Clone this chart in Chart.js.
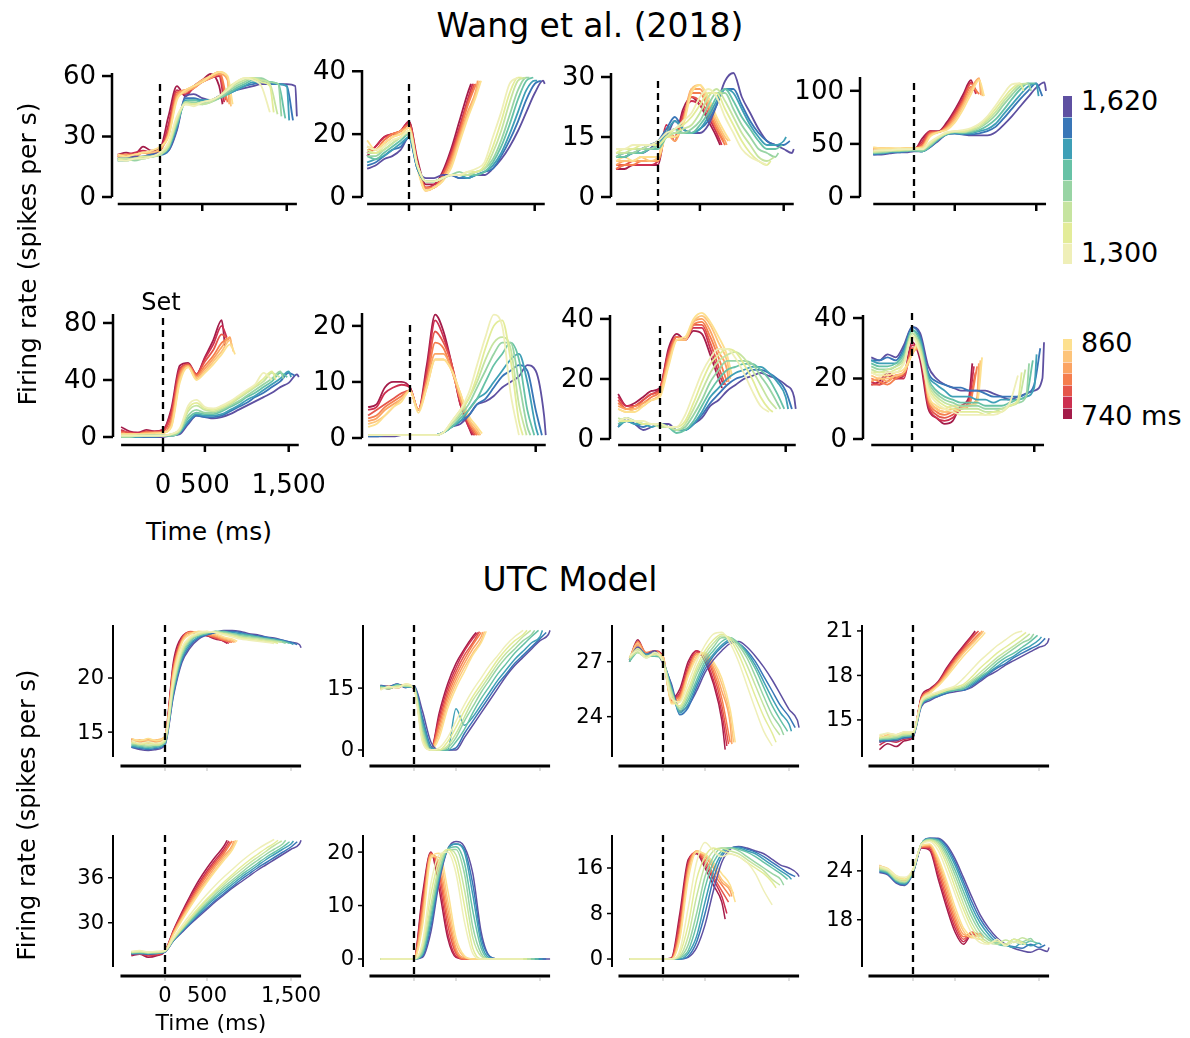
<!DOCTYPE html>
<html><head><meta charset="utf-8">
<script src="https://cdn.jsdelivr.net/npm/chart.js@4.4.1/dist/chart.umd.min.js"></script>
<style>
html,body{margin:0;padding:0;background:#fff;}
#wrap{position:relative;width:1190px;height:1038px;overflow:hidden;background:#fff;font-family:"DejaVu Sans",sans-serif;color:#000;}
#wrap canvas{position:absolute;}
.t{position:absolute;white-space:nowrap;line-height:1;transform:translate(-50%,-50%);}
.tl{position:absolute;white-space:nowrap;line-height:1;transform:translate(0,-50%);}
.rot{position:absolute;white-space:nowrap;line-height:1;transform:translate(-50%,-50%) rotate(-90deg);}
.seg{position:absolute;width:9px;box-sizing:border-box;border-top:1px solid rgba(255,255,255,0.55);}
</style></head><body><div id="wrap"></div>
<script>
// ---------------- DATA ----------------
const shortIntervals = [740,760,780,800,820,840,860];
const longIntervals = [1300,1346,1391,1437,1483,1529,1574,1620];
const xTickValues = [0,500,1500];
const xTickLabels = ['0','500','1,500'];
const topStart = -500;   // first sample time (ms), Wang et al. panels
const modelStart = -400; // first sample time (ms), UTC model panels

// Wang et al. row 1
const A1_yTicks = [0,30,60];
const A1_short = [
 [21,22,21,25,23,24,40,55,50,55,58,61,55,46],
 [20,21,22,23,22,23,36,53,51,54,57,59,60,47],
 [20,21,21,22,22,23,33,52,52,54,58,59,61,48],
 [21,21,21,22,21,23,32,51,53,55,57,60,62,47],
 [20,21,20,22,21,24,31,50,53,54,57,59,61,58,46],
 [20,20,21,22,22,24,30,49,52,55,58,60,62,59,45],
 [21,20,21,22,23,25,30,48,53,55,57,60,62,60,46]];
const A1_long = [
 [18,18,19,19,20,22,27,40,46,45,47,48,50,53,57,59,58,55,42],
 [19,18,19,20,20,22,26,39,46,46,47,48,50,54,57,59,59,57,55,42],
 [19,19,19,20,20,21,25,38,47,46,46,47,50,53,56,58,59,58,56,41],
 [19,19,18,19,20,21,25,37,47,47,46,47,49,52,55,57,59,59,57,56,40],
 [18,19,19,19,20,21,24,36,47,48,47,48,49,51,54,56,58,58,57,56,39],
 [18,18,19,20,20,21,24,35,48,48,48,48,49,51,53,55,57,57,57,56,55,38],
 [19,19,19,20,21,21,23,34,49,49,48,48,50,51,53,55,56,57,56,56,55,38],
 [19,19,20,20,21,22,23,33,50,51,49,48,50,52,53,54,55,56,56,56,56,55,40]];

const A2_yTicks = [0,20,40];
const A2_short = [
 [13,16,19,20,21,24,12,4,4,8,15,24,33,36],
 [14,16,19,20,21,24,11,3,4,7,14,22,31,36],
 [15,15,18,20,21,23,11,3,3,7,13,21,30,36],
 [15,15,18,20,21,23,10,3,3,6,12,20,29,36],
 [16,15,17,19,21,22,10,2,3,6,11,19,27,34,37],
 [16,15,17,19,20,22,10,2,3,5,10,18,26,33,37],
 [18,15,17,19,20,22,9,2,3,5,9,17,25,32,37]];
const A2_long = [
 [16,15,16,18,19,21,10,5,5,6,7,7,8,9,11,19,27,36,38],
 [15,14,16,18,19,21,10,5,5,6,7,7,8,8,10,16,24,33,38,38],
 [14,14,15,17,19,21,10,5,5,6,7,7,7,8,9,14,21,30,37,38],
 [13,13,15,17,19,20,10,5,5,6,7,8,7,8,9,12,18,26,34,38,38],
 [13,12,14,16,18,20,10,5,5,6,7,7,7,7,8,11,16,23,31,37,38],
 [11,12,13,15,17,19,9,5,5,6,7,7,6,7,8,10,14,20,27,34,37,37],
 [10,11,13,15,16,19,9,5,5,6,7,6,6,7,8,9,13,18,24,31,36,37],
 [9,10,12,13,15,19,9,6,6,7,7,6,6,7,7,9,12,16,21,27,33,37,36]];

const A3_yTicks = [0,15,30];
const A3_short = [
 [7,7,8,8,8,8,17,15,22,25,23,19,15,13],
 [7,8,8,8,8,9,18,14,21,24,23,20,16,13],
 [8,8,9,9,9,9,17,15,20,25,24,21,17,14],
 [7,8,8,9,9,9,16,15,19,26,26,22,17,13],
 [8,9,9,9,9,9,16,14,19,27,27,23,18,14,13],
 [9,9,9,10,9,10,16,15,18,27,28,24,19,15,14],
 [9,10,9,10,10,10,15,15,18,26,28,25,20,16,14]];
const A3_long = [
 [12,12,13,13,13,14,16,17,19,21,25,27,25,20,16,12,10,9,8],
 [11,12,12,13,13,13,15,17,18,20,23,26,26,22,18,14,11,9,8,9],
 [11,11,12,12,13,13,15,16,17,18,21,25,27,24,20,16,13,10,9,10],
 [10,11,11,12,12,13,15,16,16,17,19,23,26,26,22,18,15,12,11,10,11],
 [10,10,11,11,12,12,15,17,16,16,18,21,25,27,24,20,17,14,12,12,13],
 [10,10,11,11,12,13,16,19,17,16,17,20,24,27,26,22,18,15,13,13,14,15],
 [10,11,11,12,13,14,17,20,17,16,17,19,23,27,27,23,19,16,14,13,13,14],
 [10,10,11,11,12,14,15,19,17,16,16,18,23,29,31,25,21,17,14,13,12,11,12]];

const A4_yTicks = [0,50,100];
const A4_short = [
 [44,44,45,44,45,44,55,62,62,70,82,96,110,100],
 [44,44,45,45,44,45,52,62,61,68,80,93,108,97],
 [45,45,44,45,45,45,50,61,61,67,78,91,107,98],
 [45,46,45,44,45,46,48,60,61,66,76,89,104,97],
 [46,45,45,45,46,46,47,59,61,65,74,87,102,112,96],
 [46,46,46,45,46,46,47,58,61,64,72,85,100,111,95],
 [47,46,46,46,46,46,46,57,61,63,70,82,97,110,95]];
const A4_long = [
 [44,44,44,45,45,45,45,52,57,61,62,63,65,69,76,86,97,106,107],
 [43,44,44,44,45,45,45,51,56,60,62,62,64,68,74,83,93,102,107,100],
 [42,43,44,44,44,45,45,50,56,60,61,61,63,66,72,80,90,99,106,107],
 [42,42,43,44,44,44,44,49,55,60,61,61,62,65,70,77,87,96,104,107,100],
 [41,42,43,43,44,44,43,48,55,59,61,60,61,63,67,73,82,92,101,107,107],
 [41,41,42,43,43,44,43,48,54,59,60,60,60,62,64,69,78,87,96,104,107,95],
 [40,41,42,42,43,44,43,47,54,59,60,59,59,60,62,66,74,83,92,100,107,95],
 [40,40,41,42,42,43,43,47,53,59,60,59,58,58,58,61,68,76,85,94,103,108,100]];

// Wang et al. row 2
const B1_yTicks = [0,40,80];
const B1_short = [
 [7,4,3,5,4,5,20,50,52,44,56,68,82,64],
 [5,3,3,4,4,5,18,48,51,44,55,65,78,70],
 [4,3,2,4,3,4,15,46,51,44,53,61,72,68],
 [3,2,2,3,3,3,12,44,50,43,50,57,66,70],
 [2,2,2,3,3,3,10,42,50,42,48,55,63,70,63],
 [2,2,2,2,3,3,8,40,49,41,46,53,60,68,60],
 [2,2,2,2,2,3,7,38,49,40,45,51,58,65,58]];
const B1_long = [
 [1,1,1,1,1,1,2,6,22,26,21,20,22,25,29,33,37,45,40],
 [1,1,1,1,1,1,2,5,20,24,20,19,21,24,28,32,36,41,46,40],
 [1,1,1,1,1,1,2,5,18,22,19,18,20,23,27,31,35,39,45,42],
 [0,0,1,1,1,1,1,4,15,19,17,17,19,22,25,29,33,37,41,46,41],
 [0,0,1,1,1,1,1,4,13,17,16,16,18,21,24,28,31,35,39,45,42],
 [0,0,0,1,1,1,1,3,11,16,15,15,16,19,22,26,29,33,37,41,46,42],
 [0,0,0,0,0,1,1,3,10,15,14,14,15,18,21,24,28,31,35,39,45,43],
 [0,0,0,0,0,0,1,2,9,15,14,13,14,16,19,22,25,28,31,35,38,44,42]];

const B2_yTicks = [0,10,20];
const B2_short = [
 [5.5,6,9,10,10,9,5,13,22,19,13,6,2,0.5],
 [5,5.5,8,9,9.5,9,5,12,21,18,13,6,2,0.5],
 [4,5,6,7,8,8.5,5,11,19,17,13,7,2.5,0.5],
 [3.5,4,5.5,6.5,7.5,8.5,5,10,17,16,12,7,3,0.5],
 [3,3.5,5,6,7,8.5,5,10,15,15,12,7,3,1,0.5],
 [2.5,3,4,5.5,7,8.5,5,9,14,14,12,8,3.5,1.5,0.5],
 [2,2.5,4,5.5,6.5,8.5,4.5,9,14,14,12,8,4,2,0.8]];
const B2_long = [
 [0.5,0.5,0.5,0.5,0.5,0.5,0.5,0.5,0.5,1,3,5,8,13,18,22,20,8,0.5],
 [0.5,0.5,0.5,0.5,0.5,0.5,0.5,0.5,0.5,1,3,5,7,11,16,20,21,14,3,0.5],
 [0.5,0.5,0.5,0.5,0.5,0.5,0.5,0.5,0.5,1,2.5,4.5,7,10,14,17,18,16,6,0.5],
 [0.5,0.5,0.5,0.5,0.5,0.5,0.5,0.5,0.5,1,2.5,4,6,9,12,15,17,17,10,2,0.5],
 [0.5,0.5,0.5,0.5,0.5,0.5,0.5,0.5,0.5,1,2,3.5,5,7,10,13,15,17,14,5,0.5],
 [0.5,0.5,0.5,0.5,0.5,0.5,0.5,0.5,0.5,1,2,3,5,7,8,10,12,14,15,10,2,0.5],
 [0.3,0.3,0.5,0.5,0.5,0.5,0.5,0.5,0.5,1,2,3,4,6,7,9,11,12,13,12,5,0.5],
 [0.3,0.3,0.3,0.3,0.5,0.5,0.5,0.5,0.5,1,2,2.5,4,6,6.5,7.5,9,10,11,13,12,4,0.5]];

const B3_yTicks = [0,20,40];
const B3_short = [
 [15,11,12,14,16,17,30,35,33,36,35,28,20,17],
 [14,11,11,13,15,17,29,34,33,37,37,30,22,18],
 [13,10,11,13,15,16,28,34,33,38,38,32,24,18],
 [12,10,11,12,14,16,27,34,33,38,39,34,27,19],
 [11,10,10,12,13,15,26,33,33,39,40,36,29,23,19],
 [10,9,10,11,13,15,25,33,33,39,41,38,32,26,20],
 [10,9,9,11,13,14,24,33,34,40,42,39,34,28,21]];
const B3_long = [
 [6,7,6,6,5,5,4,4,8,15,22,27,30,30,27,22,16,11,9],
 [6,6,6,5,5,5,4,4,6,12,19,25,28,30,29,25,20,14,10,9],
 [7,6,6,5,5,4,4,3,5,10,16,22,26,28,29,27,23,18,13,10],
 [6,7,6,5,5,5,4,3,4,8,13,19,23,26,26,26,25,21,17,12,10],
 [5,6,6,5,5,5,4,2,3,6,11,16,20,23,24,25,25,23,20,15,10],
 [4,6,5,5,4,5,4,3,3,5,9,14,17,20,22,23,24,24,22,19,14,10],
 [5,6,5,4,5,5,4,3,3,5,8,12,15,18,20,21,23,23,22,20,16,10],
 [4,7,5,3,4,5,5,3,3,5,7,11,13,16,18,20,21,22,21,20,18,14,10]];

const B4_yTicks = [0,20,40];
const B4_short = [
 [18,19,22,20,21,32,26,10,7,5,6,11,14,25],
 [19,18,21,20,20,31,28,11,7,6,7,10,13,24],
 [18,18,19,21,21,30,29,12,8,7,8,10,12,22],
 [20,19,18,20,22,29,30,13,9,8,9,10,11,24],
 [19,20,19,21,22,28,31,14,10,9,9,10,11,14,25],
 [21,20,20,21,22,28,32,14,10,9,10,10,11,13,26],
 [22,21,21,22,23,28,33,15,11,10,11,11,11,12,27]];
const B4_long = [
 [22,21,22,22,25,34,28,16,12,10,9,8,8,8,8,8,9,12,21],
 [22,22,22,23,25,34,29,17,13,11,10,9,9,9,8,9,9,11,13,22],
 [23,22,23,24,26,35,30,18,14,12,11,10,10,10,9,9,10,11,12,23],
 [24,23,23,24,27,35,31,19,15,13,12,11,11,11,10,10,10,11,12,14,25],
 [25,24,24,25,28,36,32,20,16,14,13,12,12,12,11,11,11,12,13,14,26],
 [26,25,25,25,29,36,33,21,18,16,14,14,14,13,13,12,13,13,13,14,17,28],
 [26,26,27,26,30,37,34,22,19,18,17,17,16,16,15,14,14,14,14,15,18,30],
 [27,26,28,27,31,37,35,24,20,18,17,16,16,16,16,15,14,13,14,15,16,20,32]];

// UTC model row 1
const C1_yTicks = [15,20];
const C1_short = [
 [14.3,13.9,14.2,14.0,14.6,21.5,23.8,24.2,24.1,23.9,23.6,23.4,23.2],
 [14.2,14.0,14.1,14.1,14.5,21.2,23.7,24.2,24.1,23.9,23.7,23.4,23.2],
 [14.4,14.1,14.2,14.0,14.5,21.0,23.6,24.3,24.2,24.0,23.7,23.5,23.3],
 [14.1,14.2,14.0,14.2,14.4,20.8,23.5,24.2,24.2,24.0,23.8,23.5,23.3],
 [14.3,14.1,14.3,14.1,14.5,20.6,23.4,24.2,24.2,24.1,23.9,23.6,23.4,23.3],
 [14.2,14.3,14.2,14.3,14.6,20.4,23.3,24.1,24.3,24.2,24.0,23.7,23.5,23.3],
 [14.4,14.2,14.4,14.2,14.6,20.2,23.2,24.0,24.3,24.3,24.1,23.8,23.6,23.4]];
const C1_long = [
 [14.2,14.0,14.1,14.0,14.4,19.8,22.8,23.8,24.2,24.3,24.2,24.0,23.8,23.6,23.5,23.4,23.3,23.2],
 [14.1,13.9,14.0,13.9,14.3,19.5,22.6,23.7,24.1,24.3,24.2,24.1,23.9,23.7,23.6,23.5,23.4,23.3,23.2],
 [14.0,13.9,13.8,13.8,14.2,19.3,22.4,23.6,24.0,24.2,24.3,24.1,24.0,23.8,23.7,23.6,23.5,23.4,23.3],
 [13.9,13.8,13.7,13.8,14.1,19.1,22.2,23.5,24.0,24.2,24.3,24.2,24.1,23.9,23.8,23.7,23.6,23.5,23.3,23.2],
 [13.8,13.7,13.6,13.7,14.0,18.9,22.0,23.4,23.9,24.1,24.3,24.3,24.1,24.0,23.9,23.8,23.6,23.5,23.4,23.2],
 [13.7,13.6,13.5,13.6,14.0,18.7,21.8,23.2,23.8,24.1,24.3,24.3,24.2,24.1,24.0,23.8,23.7,23.6,23.4,23.2,23.1],
 [13.6,13.5,13.4,13.5,13.9,18.5,21.6,23.0,23.7,24.0,24.2,24.3,24.3,24.2,24.0,23.9,23.8,23.6,23.5,23.3,23.1],
 [13.6,13.4,13.3,13.4,13.8,18.3,21.4,22.8,23.6,24.0,24.2,24.4,24.4,24.3,24.1,24.0,23.8,23.7,23.5,23.3,23.1,22.8]];

const C2_yTicks = [0,15];
const C2_short = [
 [15.5,14.8,15.6,15.8,15.0,7,0,9,16,21,24.5,27.5,28.5],
 [15.0,15.2,15.3,15.6,15.0,6,0,8,15,20,24,27,28.5],
 [14.8,15.6,15.0,15.9,14.8,5,0,7,14,19,23,26,28.7],
 [15.2,15.0,15.4,15.5,15.0,4,0,6,13,18,22,25.5,28.5],
 [15.4,14.9,15.6,15.7,14.9,3.5,0,5,12,17,21,24.5,27.5,28.6],
 [15.6,15.3,15.5,15.8,15.1,3,0,4,11,16,20,23.5,26.5,28.7],
 [15.0,15.5,15.2,16.0,15.0,2.5,0,3,10,15,19,23,26,28.8]];
const C2_long = [
 [14.5,15.4,15.0,16.0,14.8,2,0,0.5,3,7,11,14.5,17.5,20.5,23,25.5,27.5,29],
 [14.8,15.2,15.3,15.8,15.0,3,0,0,2,5.5,9.5,13,16,19,22,24.5,26.5,28,29],
 [15.0,15.0,15.5,15.6,15.1,4,0,0,1,4,8,12,15,18,21,23.5,25.5,27.5,29],
 [15.2,14.8,15.6,15.5,15.2,5,0,0,0.5,3,7,10.5,14,17,20,22.5,24.5,26.5,28,29],
 [15.4,15.0,15.8,15.4,15.3,6,0,0,0,2,5,9,12.5,15.5,18.5,21,23.5,25.5,27.5,29],
 [15.5,15.2,15.9,15.3,15.4,7,0.5,0,0,10,6,8,11,14,17,19.5,22,24,26,27.5,29],
 [15.6,15.3,16.0,15.2,15.5,8,1,0,0,0.5,4,7,10,13,16,18.5,21,23,25,27,28.5],
 [15.7,15.4,16.0,15.1,15.6,9.5,2,0,0,0,3,6,9,12,15,18,20.5,22.5,24.5,26.5,28,29]];

const C3_yTicks = [24,27];
const C3_short = [
 [27.1,28.2,27.4,27.5,27.2,25.0,25.5,27.0,27.6,27.0,25.8,23.8,22.2],
 [27.0,28.0,27.4,27.6,27.3,25.0,25.3,26.8,27.6,27.2,26.0,24.2,22.4],
 [27.2,27.9,27.3,27.5,27.2,24.9,25.2,26.6,27.5,27.3,26.3,24.6,22.5],
 [27.1,28.1,27.5,27.6,27.1,24.9,25.1,26.5,27.4,27.4,26.5,25.0,22.6],
 [27.0,27.9,27.4,27.5,27.2,24.8,25.0,26.4,27.4,27.4,26.7,25.4,23.6,22.5],
 [27.2,28.0,27.3,27.4,27.3,24.8,24.9,26.3,27.3,27.5,26.9,25.8,24.0,22.6],
 [27.1,27.8,27.3,27.5,27.2,24.7,24.8,26.2,27.2,27.5,27.0,26.1,24.4,22.6]];
const C3_long = [
 [27.3,27.6,27.2,27.5,27.0,25.0,24.8,25.8,27.0,27.9,28.5,28.6,28.0,27.0,25.7,24.4,23.2,22.4],
 [27.2,27.7,27.3,27.4,27.0,25.1,24.6,25.5,26.7,27.6,28.2,28.5,28.2,27.4,26.3,25.1,24.0,23.1,22.6],
 [27.2,27.5,27.2,27.4,27.1,25.3,24.5,25.3,26.5,27.4,28.0,28.4,28.3,27.7,26.8,25.7,24.6,23.6,23.0],
 [27.1,27.6,27.3,27.4,27.0,25.4,24.4,25.1,26.3,27.2,27.8,28.3,28.3,27.9,27.2,26.2,25.1,24.1,23.4,23.0],
 [27.0,27.5,27.3,27.3,27.0,25.5,24.3,24.9,26.0,27.0,27.6,28.1,28.3,28.0,27.4,26.6,25.6,24.6,23.8,23.2],
 [27.0,27.7,27.4,27.4,27.0,25.6,24.2,24.7,25.8,26.8,27.4,27.9,28.2,28.0,27.5,26.8,25.9,25.0,24.2,23.6,23.2],
 [27.1,27.6,27.3,27.5,27.0,25.7,24.1,24.5,25.6,26.6,27.3,27.8,28.1,28.0,27.6,27.0,26.2,25.4,24.6,24.0,23.4],
 [27.1,27.8,27.4,27.6,26.9,25.8,24.3,24.6,25.4,26.4,27.1,27.6,28.0,28.1,27.8,27.3,26.7,26.0,25.2,24.4,23.8,23.4]];

const C4_yTicks = [15,18,21];
const C4_short = [
 [13.0,13.4,13.2,13.6,13.8,16.6,17.1,17.6,18.5,19.3,20.0,20.7,21.0],
 [13.3,13.6,13.5,13.7,13.9,16.5,17.0,17.5,18.4,19.2,19.9,20.6,20.9],
 [13.5,13.8,13.6,13.9,14.0,16.5,17.0,17.5,18.3,19.1,19.8,20.5,21.0],
 [13.6,13.7,13.8,13.8,14.0,16.4,16.9,17.4,18.2,19.0,19.7,20.3,20.9],
 [13.8,13.9,13.7,14.0,14.1,16.4,16.9,17.4,18.1,18.9,19.6,20.2,20.8,21.0],
 [13.7,14.0,13.9,14.1,14.1,16.3,16.9,17.3,18.0,18.8,19.5,20.1,20.7,21.0],
 [13.9,14.1,14.0,14.2,14.2,16.3,16.8,17.3,17.9,18.6,19.3,19.9,20.5,20.9]];
const C4_long = [
 [14.0,14.1,14.0,14.2,14.2,16.3,16.7,16.9,17.1,17.3,17.8,18.4,19.0,19.5,20.0,20.4,20.8,21.0],
 [13.8,13.9,14.0,14.1,14.1,16.2,16.6,16.8,17.0,17.2,17.4,17.9,18.5,19.0,19.5,19.9,20.3,20.7,20.9],
 [13.8,13.8,13.9,14.0,14.1,16.2,16.6,16.8,17.0,17.1,17.3,17.7,18.2,18.7,19.2,19.6,20.0,20.4,20.8],
 [13.7,13.8,13.8,14.0,14.0,16.1,16.5,16.8,17.0,17.1,17.2,17.6,18.0,18.5,19.0,19.4,19.8,20.2,20.5,20.8],
 [13.7,13.7,13.8,13.9,14.0,16.1,16.5,16.7,16.9,17.0,17.1,17.5,17.9,18.3,18.8,19.2,19.5,19.9,20.3,20.7],
 [13.6,13.7,13.7,13.9,14.0,16.0,16.4,16.7,16.9,17.0,17.1,17.4,17.8,18.2,18.6,19.0,19.3,19.7,20.0,20.4,20.6],
 [13.6,13.6,13.7,13.8,13.9,16.0,16.4,16.6,16.8,17.0,17.0,17.3,17.7,18.1,18.5,18.8,19.2,19.5,19.8,20.1,20.5],
 [13.5,13.6,13.6,13.8,13.9,15.9,16.3,16.6,16.8,16.9,17.0,17.2,17.6,18.0,18.3,18.7,19.0,19.3,19.6,19.9,20.2,20.5]];

// UTC model row 2
const D1_yTicks = [30,36];
const D1_short = [
 [25.6,25.8,25.4,25.6,26.2,29.0,31.4,33.6,35.6,37.3,38.8,40.2,41.0],
 [25.7,25.9,25.6,25.7,26.2,28.9,31.2,33.3,35.2,36.9,38.4,39.8,40.9],
 [25.8,25.8,25.7,25.8,26.2,28.8,31.0,33.0,34.9,36.6,38.1,39.5,40.8],
 [25.9,26.0,25.8,25.9,26.2,28.7,30.8,32.8,34.6,36.3,37.8,39.2,40.9],
 [26.0,26.1,25.9,26.0,26.2,28.6,30.6,32.5,34.3,35.9,37.5,38.9,40.3,40.9],
 [26.1,26.1,26.0,26.0,26.3,28.5,30.5,32.3,34.0,35.6,37.1,38.6,40.0,41.0],
 [26.1,26.2,26.0,26.1,26.3,28.4,30.3,32.1,33.8,35.4,36.9,38.3,39.7,41.0]];
const D1_long = [
 [26.2,26.3,26.1,26.2,26.3,28.0,29.6,31.1,32.5,33.8,35.0,36.1,37.1,38.1,39.0,39.8,40.5,41.1],
 [26.1,26.2,26.1,26.1,26.3,27.9,29.3,30.7,32.0,33.2,34.3,35.4,36.4,37.4,38.3,39.1,39.9,40.6,41.0],
 [26.1,26.1,26.0,26.1,26.2,27.8,29.2,30.5,31.8,33.0,34.1,35.1,36.1,37.0,37.9,38.7,39.5,40.3,40.9],
 [26.0,26.1,26.0,26.0,26.2,27.8,29.1,30.4,31.6,32.7,33.8,34.8,35.7,36.6,37.5,38.3,39.1,39.8,40.5,41.0],
 [26.0,26.0,25.9,26.0,26.2,27.7,29.0,30.2,31.4,32.5,33.5,34.5,35.4,36.3,37.1,37.9,38.7,39.4,40.1,40.8],
 [25.9,26.0,25.9,26.0,26.2,27.7,28.9,30.1,31.2,32.3,33.3,34.2,35.1,36.0,36.8,37.6,38.4,39.1,39.8,40.5,40.9],
 [25.9,25.9,25.8,25.9,26.1,27.6,28.8,29.9,31.0,32.0,33.0,33.9,34.8,35.7,36.5,37.3,38.0,38.7,39.4,40.1,40.8],
 [25.8,25.9,25.8,25.9,26.1,27.6,28.7,29.8,30.8,31.8,32.8,33.7,34.6,35.4,36.2,37.0,37.7,38.4,39.1,39.8,40.5,41.0]];

const D2_yTicks = [0,10,20];
const D2_short = [
 [0,0,0,0,0,12,20,13,4,0.3,0,0,0],
 [0,0,0,0,0,11,19.9,14.5,5,0.5,0,0,0],
 [0,0,0,0,0,10,19.8,16,6.5,1,0,0,0],
 [0,0,0,0,0,9,19.7,17,8,1.5,0,0,0],
 [0,0,0,0,0,8,19.5,18,9.5,2,0.2,0,0,0],
 [0,0,0,0,0,7,19.2,19,11,3,0.4,0,0,0],
 [0,0,0,0,0,6,18.8,19.8,13,4,0.6,0,0,0]];
const D2_long = [
 [0,0,0,0,0,3,14,19.5,20,16,7,1,0,0,0,0,0,0],
 [0,0,0,0,0,2.5,12,18.5,20.5,18,10,2,0,0,0,0,0,0,0],
 [0,0,0,0,0,2,10,17.5,20.5,19.5,13,4,0.5,0,0,0,0,0,0],
 [0,0,0,0,0,1.5,9,16.5,20.5,20.5,16,6,1,0,0,0,0,0,0,0],
 [0,0,0,0,0,1,8,16,20.5,21,18,9,2,0,0,0,0,0,0,0],
 [0,0,0,0,0,0.8,7,15.5,20.5,21.5,20,12,3,0.2,0,0,0,0,0,0,0],
 [0,0,0,0,0,0.5,6,15,20.5,21.5,20.5,14,4,0.5,0,0,0,0,0,0,0],
 [0,0,0,0,0,0.3,5,14.5,20.5,22,21,16,5,0.5,0,0,0,0,0,0,0,0]];

const D3_yTicks = [0,8,16];
const D3_short = [
 [0,0,0,0,0,0.2,8,17.5,18.5,16,13,10,7],
 [0,0,0,0,0,0.1,7,17,18.7,16.5,14,11,8],
 [0,0,0,0,0,0.1,6,16.5,18.8,17,14.5,12,10],
 [0,0,0,0,0,0,5,16,18.9,17.5,15,13,11],
 [0,0,0,0,0,0,4.5,15.5,19,18,16,13.5,12,11],
 [0,0,0,0,0,0,4,15,19,18.3,16.5,14,12.5,11.5],
 [0,0,0,0,0,0,3.5,14,18.8,18.5,17,15,13,10]];
const D3_long = [
 [0,0,0,0,0,0,1.5,9,17,20.5,19,18,18.5,18,17,15,12,9.5],
 [0,0,0,0,0,0,1,6,14,18,19.5,19,18.5,18,17,16,15,13.5,12.5],
 [0,0,0,0,0,0,0.5,4,11,16.5,19,19.5,19,18.5,17.5,16.5,15.5,14,13],
 [0,0,0,0,0,0,0.3,2.5,8,14.5,18,19.5,19.5,19,18,17,16,15,14,13],
 [0,0,0,0,0,0,0.2,1.5,6,12.5,17,19,19.5,19.3,18.8,18,17,16,15,14],
 [0,0,0,0,0,0,0,1,4,10,15.5,18.5,19.5,19.5,19,18.5,17.5,16.5,15.5,14.5,14],
 [0,0,0,0,0,0,0,0.5,3,8,14,18,19.5,19.7,19.3,18.8,18,17,16,15,14.5],
 [0,0,0,0,0,0,0,0.3,2,6,12,17,19.3,19.8,19.5,19,18.5,17.5,16.5,16,15,14.5]];

const D4_yTicks = [18,24];
const D4_short = [
 [24.3,23.8,22.8,22.4,23.8,26.8,26.5,23.0,19.5,16.5,15.0,16.2,15.8],
 [24.5,24.0,22.9,22.5,23.9,26.9,26.7,23.5,20.0,17.0,15.3,16.3,16.0],
 [24.2,24.1,23.0,22.6,24.0,26.9,26.9,24.0,20.6,17.5,15.6,16.5,16.1],
 [24.6,24.2,23.1,22.7,24.0,27.0,27.0,24.5,21.2,18.0,15.9,16.4,16.2],
 [24.4,24.0,23.2,22.8,24.1,27.0,27.1,25.0,21.8,18.5,16.2,16.0,16.3,16.0],
 [24.7,24.1,23.3,22.9,24.1,27.1,27.2,25.3,22.3,19.0,16.6,15.8,16.0,15.8],
 [24.5,24.3,23.4,23.0,24.2,27.1,27.3,25.6,22.8,19.6,17.0,15.9,15.6,15.5]];
const D4_long = [
 [24.6,24.2,23.4,23.2,24.2,27.2,27.6,26.5,24.0,21.2,18.5,16.3,15.2,15.0,15.6,14.8,15.3,15.0],
 [24.4,24.1,23.2,22.9,24.1,27.3,27.7,27.0,24.8,22.0,19.3,17.0,15.6,15.1,15.4,15.0,15.6,15.2,15.0],
 [24.3,24.0,23.0,22.7,24.0,27.3,27.8,27.3,25.4,22.8,20.0,17.6,16.0,15.2,15.0,15.5,15.2,15.8,15.4],
 [24.2,23.9,22.9,22.6,24.0,27.3,27.8,27.5,25.9,23.5,20.8,18.3,16.5,15.5,15.2,15.0,15.6,15.3,15.7,15.3],
 [24.1,23.8,22.8,22.5,23.9,27.3,27.9,27.7,26.3,24.1,21.5,19.0,17.0,15.8,15.0,14.8,15.3,15.0,15.4,15.1],
 [24.0,23.7,22.7,22.4,23.8,27.3,27.9,27.8,26.7,24.7,22.2,19.6,17.6,16.2,15.2,14.9,14.6,15.2,14.8,15.1,14.9],
 [23.9,23.6,22.6,22.3,23.8,27.3,28.0,27.9,27.0,25.1,22.7,20.2,18.1,16.6,15.5,14.9,14.7,14.5,15.0,14.6,14.9],
 [23.8,23.5,22.5,22.2,23.7,27.2,28.0,28.0,27.2,25.5,23.2,20.8,18.6,17.0,15.8,15.0,14.5,14.2,14.0,14.4,14.1,14.6]];

// ---------------- STYLE / LAYOUT ----------------
const shortColors = ['#a41c4a','#cc2f50','#e5564b','#f57e4e','#fba463','#fdc47a','#fde08f'];
const longColors = ['#efefb8','#e3ec99','#c6e4a0','#98d4a4','#67c2a6','#3e9fb6','#3976b7','#5e50a1'];

const panels = [
 {short:A1_short,long:A1_long,yTicks:A1_yTicks,sec:'top',t0:topStart,x0:160,ppm:0.0845,xmin:-500,xmax:1620,ymin:0,ymax:61.5,yLo:197,yHi:73,spineX:112,axisY:204,dashTop:84},
 {short:A2_short,long:A2_long,yTicks:A2_yTicks,sec:'top',t0:topStart,x0:409,ppm:0.0838,xmin:-500,xmax:1620,ymin:0,ymax:40.4,yLo:197,yHi:70,spineX:362,axisY:204,dashTop:84},
 {short:A3_short,long:A3_long,yTicks:A3_yTicks,sec:'top',t0:topStart,x0:658,ppm:0.0838,xmin:-500,xmax:1620,ymin:0,ymax:31,yLo:197,yHi:73,spineX:611,axisY:204,dashTop:81},
 {short:A4_short,long:A4_long,yTicks:A4_yTicks,sec:'top',t0:topStart,x0:914,ppm:0.0815,xmin:-500,xmax:1620,ymin:0,ymax:113,yLo:197,yHi:77,spineX:860,axisY:204,dashTop:83},
 {short:B1_short,long:B1_long,yTicks:B1_yTicks,sec:'top',t0:topStart,x0:163,ppm:0.0838,xmin:-500,xmax:1620,ymin:0,ymax:86.3,yLo:437,yHi:314,spineX:113,axisY:445,dashTop:318,xLabels:true},
 {short:B2_short,long:B2_long,yTicks:B2_yTicks,sec:'top',t0:topStart,x0:410,ppm:0.0838,xmin:-500,xmax:1620,ymin:0,ymax:22.3,yLo:438,yHi:313,spineX:362,axisY:445,dashTop:325},
 {short:B3_short,long:B3_long,yTicks:B3_yTicks,sec:'top',t0:topStart,x0:660,ppm:0.0838,xmin:-500,xmax:1620,ymin:0,ymax:41.3,yLo:439,yHi:315,spineX:610,axisY:445,dashTop:326},
 {short:B4_short,long:B4_long,yTicks:B4_yTicks,sec:'top',t0:topStart,x0:912,ppm:0.0815,xmin:-500,xmax:1620,ymin:0,ymax:41,yLo:439,yHi:315,spineX:863,axisY:445,dashTop:313},
 {short:C1_short,long:C1_long,yTicks:C1_yTicks,sec:'bot',t0:modelStart,x0:165,ppm:0.084,xmin:-530,xmax:1620,ymin:12.7,ymax:24.9,yLo:757,yHi:625,spineX:113,axisY:766,dashTop:625},
 {short:C2_short,long:C2_long,yTicks:C2_yTicks,sec:'bot',t0:modelStart,x0:414,ppm:0.084,xmin:-530,xmax:1620,ymin:-1.7,ymax:30.3,yLo:757,yHi:625,spineX:363,axisY:766,dashTop:625},
 {short:C3_short,long:C3_long,yTicks:C3_yTicks,sec:'bot',t0:modelStart,x0:663,ppm:0.084,xmin:-530,xmax:1620,ymin:21.8,ymax:29.0,yLo:757,yHi:625,spineX:612,axisY:766,dashTop:625},
 {short:C4_short,long:C4_long,yTicks:C4_yTicks,sec:'bot',t0:modelStart,x0:913,ppm:0.084,xmin:-530,xmax:1620,ymin:12.5,ymax:21.4,yLo:757,yHi:625,spineX:862,axisY:766,dashTop:625},
 {short:D1_short,long:D1_long,yTicks:D1_yTicks,sec:'bot',t0:modelStart,x0:165,ppm:0.084,xmin:-530,xmax:1620,ymin:24.1,ymax:41.7,yLo:967,yHi:835,spineX:113,axisY:976,dashTop:835,xLabels:true},
 {short:D2_short,long:D2_long,yTicks:D2_yTicks,sec:'bot',t0:modelStart,x0:414,ppm:0.084,xmin:-530,xmax:1620,ymin:-1.5,ymax:23.2,yLo:967,yHi:835,spineX:363,axisY:976,dashTop:835},
 {short:D3_short,long:D3_long,yTicks:D3_yTicks,sec:'bot',t0:modelStart,x0:663,ppm:0.084,xmin:-530,xmax:1620,ymin:-1.4,ymax:21.8,yLo:967,yHi:835,spineX:612,axisY:976,dashTop:835},
 {short:D4_short,long:D4_long,yTicks:D4_yTicks,sec:'bot',t0:modelStart,x0:913,ppm:0.084,xmin:-530,xmax:1620,ymin:12.2,ymax:28.4,yLo:967,yHi:835,spineX:862,axisY:976,dashTop:835}
];

const FONT = '"DejaVu Sans", "Noto Sans", sans-serif';
const wrap = document.getElementById('wrap');

function pts(vals, T, t0){
  return vals.map((v,i)=>({x: i===vals.length-1 ? T : Math.min(t0+100*i, T), y: v}));
}

function addText(txt, cls, x, y, size, extra){
  const d = document.createElement('div');
  d.className = cls; d.textContent = txt;
  d.style.left = x+'px'; d.style.top = y+'px';
  d.style.fontSize = size+'px';
  if (extra) Object.assign(d.style, extra);
  wrap.appendChild(d);
}

function makeAxes(p, cL, cT){
  const top = p.sec === 'top';
  return {
    id:'axes',
    afterDatasetsDraw(chart){
      const ctx = chart.ctx, xs = chart.scales.x, ys = chart.scales.y;
      ctx.save();
      ctx.strokeStyle = '#000'; ctx.fillStyle = '#000'; ctx.lineCap = 'butt';
      // Set marker (dashed)
      const zx = xs.getPixelForValue(0);
      ctx.lineWidth = 2.3; ctx.setLineDash([7,5]);
      ctx.beginPath(); ctx.moveTo(zx, p.dashTop - cT); ctx.lineTo(zx, p.axisY - cT); ctx.stroke();
      ctx.setLineDash([]);
      // y spine
      const sx = p.spineX - cL;
      ctx.lineWidth = top ? 2.5 : 2;
      ctx.beginPath(); ctx.moveTo(sx, ys.getPixelForValue(ys.min)); ctx.lineTo(sx, ys.getPixelForValue(ys.max)); ctx.stroke();
      // y ticks + labels
      ctx.font = (top ? '26px ' : '21px ') + FONT;
      ctx.textAlign = 'right'; ctx.textBaseline = 'middle';
      p.yTicks.forEach(v=>{
        const y = ys.getPixelForValue(v);
        ctx.lineWidth = top ? 2.5 : 1.5;
        ctx.beginPath(); ctx.moveTo(sx - (top ? 10 : 5), y); ctx.lineTo(sx, y); ctx.stroke();
        ctx.fillText(String(v), sx - (top ? 16 : 9), y + 1);
      });
      // x spine
      const ay = p.axisY - cT;
      ctx.lineWidth = top ? 2.5 : 3;
      ctx.beginPath(); ctx.moveTo(xs.getPixelForValue(xs.min), ay); ctx.lineTo(xs.getPixelForValue(xs.max), ay); ctx.stroke();
      // x ticks
      ctx.textAlign = 'center'; ctx.textBaseline = 'middle';
      ctx.font = (top ? '26px ' : '21px ') + FONT;
      xTickValues.forEach((v,i)=>{
        const x = xs.getPixelForValue(v);
        if (top){ ctx.strokeStyle = '#000'; ctx.lineWidth = 2.5; ctx.beginPath(); ctx.moveTo(x, ay); ctx.lineTo(x, ay + 7); ctx.stroke(); }
        else { ctx.strokeStyle = '#c8c8c8'; ctx.lineWidth = 1.2; ctx.beginPath(); ctx.moveTo(x, ay + 2); ctx.lineTo(x, ay + 5); ctx.stroke(); }
        if (p.xLabels){
          ctx.fillStyle = '#000';
          ctx.fillText(xTickLabels[i], x, ay + (top ? 41 : 21));
        }
      });
      ctx.restore();
    }
  };
}

panels.forEach(p=>{
  const xLeft = p.x0 + p.xmin*p.ppm, xRight = p.x0 + p.xmax*p.ppm;
  const cL = Math.floor(p.spineX - 80), cT = Math.floor(p.yHi - 22);
  const cR = Math.ceil(xRight + (p.xLabels ? 50 : 14)), cB = Math.ceil(p.axisY + (p.xLabels ? 70 : 14));
  const W = cR - cL, H = cB - cT;
  const cv = document.createElement('canvas');
  cv.width = W; cv.height = H;
  cv.style.left = cL+'px'; cv.style.top = cT+'px';
  cv.style.width = W+'px'; cv.style.height = H+'px';
  wrap.appendChild(cv);
  const lw = p.sec === 'top' ? 1.8 : 1.5;
  const datasets = [];
  p.long.forEach((vals,i)=>datasets.push({data:pts(vals,longIntervals[i],p.t0),borderColor:longColors[i],borderWidth:lw,pointRadius:0,cubicInterpolationMode:'monotone',fill:false,clip:false}));
  for (let i = p.short.length-1; i >= 0; i--){
    datasets.push({data:pts(p.short[i],shortIntervals[i],p.t0),borderColor:shortColors[i],borderWidth:lw,pointRadius:0,cubicInterpolationMode:'monotone',fill:false,clip:false});
  }
  new Chart(cv.getContext('2d'), {
    type:'line',
    data:{datasets},
    options:{
      responsive:false, animation:false, events:[], devicePixelRatio:1,
      layout:{padding:{left:xLeft-cL, right:cR-xRight, top:p.yHi-cT, bottom:cB-p.yLo}},
      plugins:{legend:{display:false}, tooltip:{enabled:false}, title:{display:false}},
      scales:{
        x:{type:'linear', min:p.xmin, max:p.xmax, display:false},
        y:{type:'linear', min:p.ymin, max:p.ymax, display:false}
      }
    },
    plugins:[makeAxes(p, cL, cT)]
  });
});

// ---------------- TEXT ----------------
addText('Wang et al. (2018)', 't', 590, 25, 33);
addText('UTC Model', 't', 570, 579, 33);
addText('Firing rate (spikes per s)', 'rot', 27, 254, 25);
addText('Firing rate (spikes per s)', 'rot', 27, 815, 24);
addText('Set', 't', 161, 302, 24);
addText('Time (ms)', 't', 209, 531, 25);
addText('Time (ms)', 't', 211, 1023, 22);

// colorbars
function bar(colors, x, yTop, yBot){
  const h = (yBot - yTop)/colors.length;
  for (let i = 0; i < colors.length; i++){
    const d = document.createElement('div');
    d.className = 'seg';
    d.style.left = x+'px';
    d.style.top = (yTop + i*h)+'px';
    d.style.height = h+'px';
    d.style.background = colors[colors.length-1-i];
    if (i === 0) d.style.borderTop = 'none';
    wrap.appendChild(d);
  }
}
bar(longColors, 1063, 96, 264);
bar(shortColors, 1063, 339, 419);
addText(longIntervals[longIntervals.length-1].toLocaleString('en-US'), 'tl', 1081, 100, 27);
addText(longIntervals[0].toLocaleString('en-US'), 'tl', 1081, 252, 27);
addText(String(shortIntervals[shortIntervals.length-1]), 'tl', 1081, 342, 27);
addText(shortIntervals[0] + ' ms', 'tl', 1081, 415, 27);
</script>
</body></html>
